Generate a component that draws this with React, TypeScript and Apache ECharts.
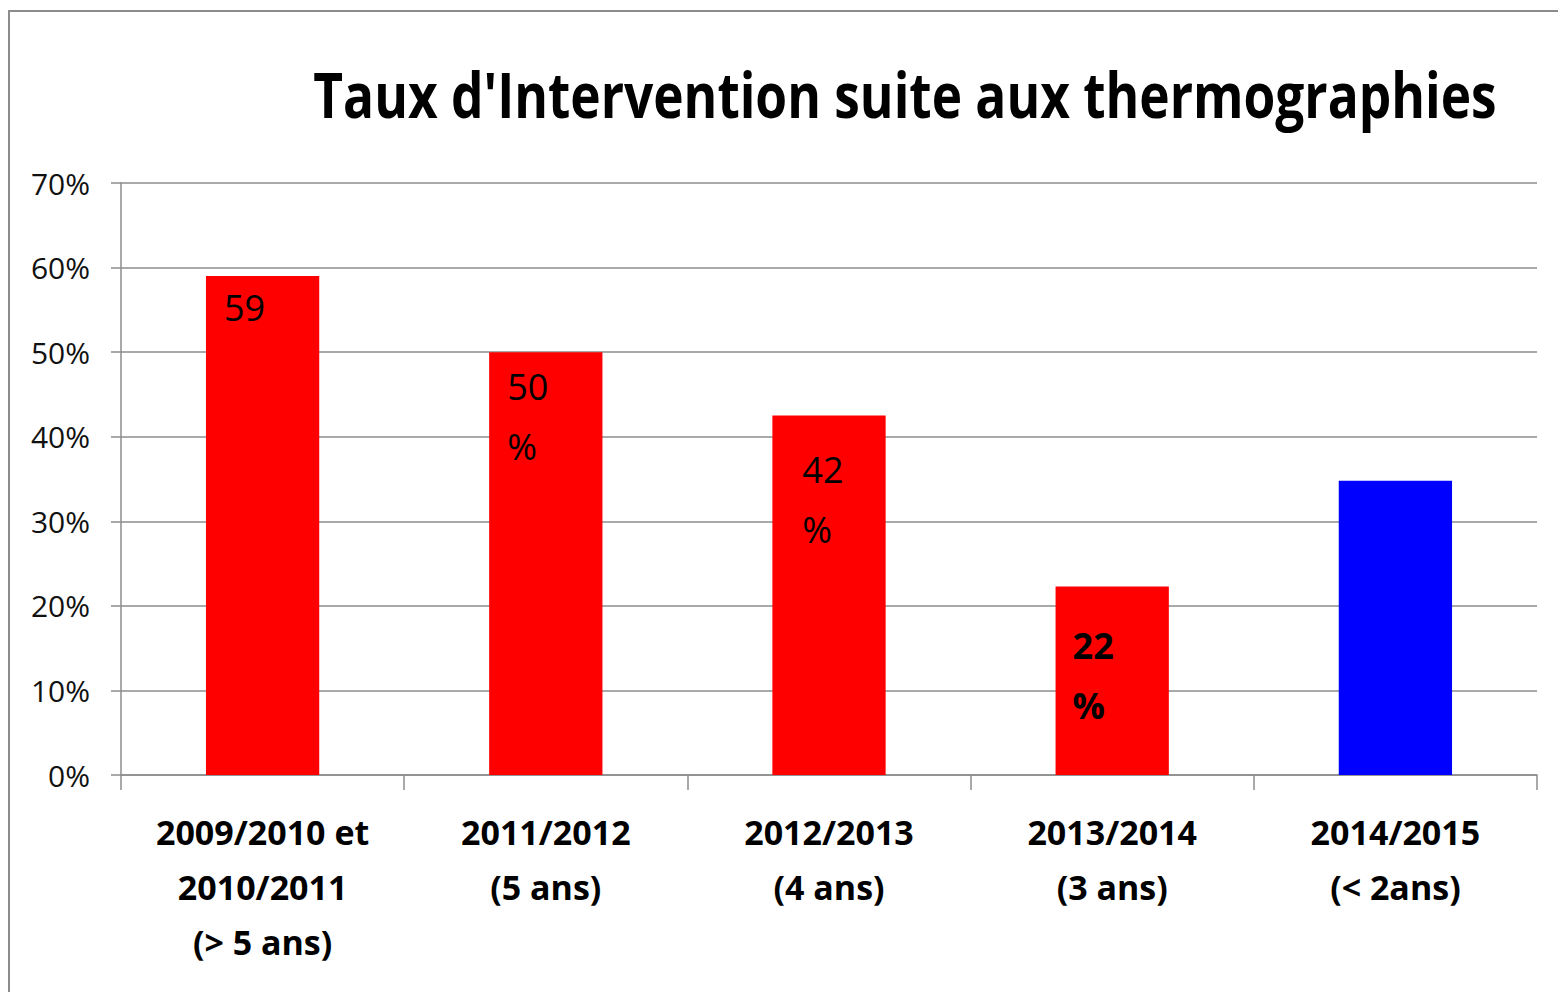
import React, { useEffect, useRef } from "react";
import * as echarts from "echarts";

const titleText = "Taux d'Intervention suite aux thermographies";
const categories = [
  "2009/2010 et\n2010/2011\n(> 5 ans)",
  "2011/2012\n(5 ans)",
  "2012/2013\n(4 ans)",
  "2013/2014\n(3 ans)",
  "2014/2015\n(< 2ans)",
];
const values = [59, 50, 42.5, 22.3, 34.8];
const barColors = ["#ff0000", "#ff0000", "#ff0000", "#ff0000", "#0000ff"];
const labelTexts = ["59", "50\n%", "42\n%", "22\n%", ""];
const yMin = 0;
const yMax = 70;
const yInterval = 10;

// label placement inside bars (style, not data)
const labelPos: [number, number][] = [
  [18, 1],
  [18, 4],
  [30, 24],
  [17, 29],
  [0, 0],
];
const labelBold = [false, false, false, true, false];

const FONT = "'Open Sans', sans-serif";

export default function App() {
  const ref = useRef<HTMLDivElement>(null);
  useEffect(() => {
    if (!ref.current) return;
    const chart = echarts.init(ref.current, null, { renderer: "svg" });
    const gridColor = "#8c8c8c";
    chart.setOption({
      animation: false,
      backgroundColor: "#ffffff",
      textStyle: { fontFamily: FONT },
      graphic: [
        {
          type: "rect",
          z: -10,
          shape: { x: 9, y: 11, width: 1700, height: 1100 },
          style: { fill: "none", stroke: "#8c8c8c", lineWidth: 2 },
          silent: true,
        },
        {
          type: "text",
          x: 905,
          y: 59,
          scaleX: 0.816,
          silent: true,
          style: {
            text: titleText,
            fontFamily: FONT,
            fontSize: 63,
            fontWeight: "bold",
            fill: "#000",
            align: "center",
            verticalAlign: "top",
            lineHeight: 70,
          },
        },
      ],
      grid: { left: 121, right: 21, top: 183, bottom: 217, containLabel: false },
      xAxis: {
        type: "category",
        data: categories,
        axisLine: { show: true, lineStyle: { color: gridColor, width: 1.5 } },
        axisTick: { show: true, length: 15, lineStyle: { color: gridColor, width: 1.5 } },
        axisLabel: {
          interval: 0,
          margin: 29,
          fontFamily: FONT,
          fontSize: 34,
          fontWeight: "bold",
          color: "#000",
          lineHeight: 55,
        },
      },
      yAxis: {
        type: "value",
        min: yMin,
        max: yMax,
        interval: yInterval,
        axisLine: { show: true, lineStyle: { color: gridColor, width: 1.5 } },
        axisTick: { show: true, length: 10, lineStyle: { color: gridColor, width: 1.5 } },
        splitLine: { show: true, lineStyle: { color: gridColor, width: 1.5 } },
        axisLabel: {
          formatter: "{value}%",
          margin: 31,
          fontFamily: FONT,
          fontSize: 30,
          color: "#111",
        },
      },
      series: [
        {
          type: "bar",
          barWidth: "40%",
          data: values.map((v, i) => ({
            value: v,
            itemStyle: { color: barColors[i] },
            label: {
              show: labelTexts[i] !== "",
              formatter: labelTexts[i],
              position: labelPos[i],
              align: "left",
              verticalAlign: "top",
              fontFamily: FONT,
              fontSize: 36,
              fontWeight: labelBold[i] ? "bold" : "normal",
              lineHeight: 60,
              color: "#000",
            },
          })),
        },
      ],
    });
    return () => chart.dispose();
  }, []);
  return (
    <div
      ref={ref}
      style={{ position: "absolute", left: 0, top: 0, width: 1558, height: 992 }}
    />
  );
}
